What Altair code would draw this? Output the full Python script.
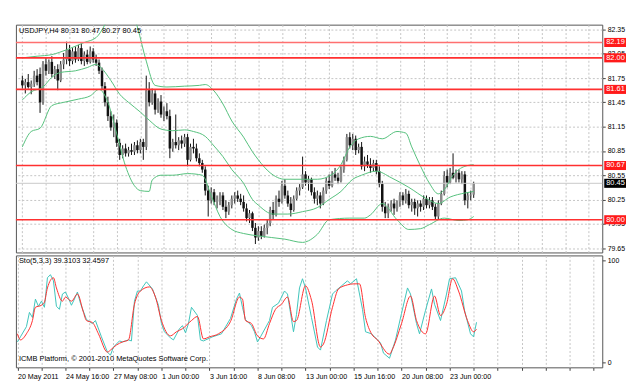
import altair as alt
import pandas as pd

# ---------------- data ----------------
opens = [81.72, 81.66, 81.70, 81.64, 81.68, 81.78, 81.80, 81.45, 81.92, 81.84,
         81.95, 81.80, 81.86, 81.72, 81.92, 81.98, 82.10, 81.96, 82.08, 81.98,
         82.12, 81.96, 82.04, 81.95, 82.08, 81.98, 81.94, 81.84, 81.65, 81.45,
         81.28, 81.14, 81.20, 80.95, 80.80, 80.88, 80.82, 80.86, 80.84, 80.92,
         80.86, 80.96, 80.90, 81.60, 81.45, 81.56, 81.36, 81.46, 81.30, 81.34,
         81.28, 80.88, 80.96, 80.92, 80.98, 80.94, 81.02, 80.74, 80.90, 80.88,
         80.76, 80.70, 80.62, 80.36, 80.24, 80.34, 80.22, 80.26, 80.30, 80.16,
         80.10, 80.18, 80.26, 80.30, 80.26, 80.22, 80.14, 80.02, 80.08, 79.90,
         79.78, 79.86, 79.80, 79.90, 79.96, 80.12, 80.06, 80.26, 80.22, 80.42,
         80.30, 80.20, 80.12, 80.26, 80.36, 80.40, 80.56, 80.46, 80.50, 80.34,
         80.26, 80.30, 80.20, 80.36, 80.48, 80.42, 80.56, 80.52, 80.48, 80.62,
         80.74, 81.02, 80.92, 81.00, 80.86, 80.90, 80.66, 80.72, 80.68, 80.64,
         80.70, 80.60, 80.44, 80.16, 80.08, 80.16, 80.20, 80.14, 80.22, 80.30,
         80.24, 80.32, 80.18, 80.22, 80.14, 80.20, 80.16, 80.26, 80.18, 80.24,
         80.16, 80.04, 80.20, 80.32, 80.54, 80.46, 80.58, 80.52, 80.58, 80.50,
         80.56, 80.24, 80.30, 80.31]
highs = [81.78, 81.74, 81.80, 81.72, 81.84, 81.86, 81.88, 81.96, 82.00, 81.98,
         82.02, 81.90, 81.92, 81.96, 82.06, 82.20, 82.16, 82.12, 82.14, 82.16,
         82.18, 82.08, 82.10, 82.14, 82.12, 82.04, 81.98, 81.88, 81.70, 81.52,
         81.34, 81.30, 81.24, 81.00, 80.92, 80.94, 80.90, 80.94, 80.96, 80.98,
         81.00, 81.00, 81.78, 81.70, 81.62, 81.60, 81.50, 81.54, 81.40, 81.44,
         81.36, 81.00, 81.30, 81.02, 81.04, 81.06, 81.06, 80.94, 81.00, 80.94,
         80.82, 80.74, 80.66, 80.42, 80.40, 80.38, 80.30, 80.34, 80.34, 80.24,
         80.22, 80.30, 80.34, 80.36, 80.32, 80.30, 80.20, 80.12, 80.10, 79.96,
         79.92, 79.92, 79.94, 80.00, 80.16, 80.22, 80.30, 80.36, 80.48, 80.50,
         80.36, 80.28, 80.30, 80.40, 80.44, 80.78, 80.60, 80.54, 80.52, 80.40,
         80.36, 80.34, 80.40, 80.52, 80.56, 80.60, 80.64, 80.58, 80.66, 80.78,
         81.06, 81.08, 81.06, 81.04, 80.94, 80.96, 80.78, 80.80, 80.76, 80.74,
         80.74, 80.66, 80.48, 80.22, 80.20, 80.24, 80.26, 80.24, 80.34, 80.34,
         80.38, 80.36, 80.26, 80.26, 80.24, 80.24, 80.30, 80.30, 80.28, 80.28,
         80.20, 80.24, 80.36, 80.60, 80.62, 80.64, 80.82, 80.62, 80.62, 80.60,
         80.60, 80.34, 80.36, 80.47]
lows = [81.62, 81.56, 81.62, 81.55, 81.64, 81.66, 81.32, 81.42, 81.78, 81.80,
        81.76, 81.74, 81.60, 81.70, 81.86, 81.92, 81.90, 81.92, 81.94, 81.96,
        81.92, 81.90, 81.92, 81.93, 81.94, 81.90, 81.80, 81.60, 81.40, 81.22,
        81.10, 81.02, 80.90, 80.74, 80.76, 80.78, 80.78, 80.80, 80.80, 80.82,
        80.82, 80.74, 80.86, 81.40, 81.42, 81.30, 81.32, 81.26, 81.22, 81.24,
        80.76, 80.84, 80.88, 80.86, 80.88, 80.90, 80.66, 80.72, 80.82, 80.72,
        80.66, 80.58, 80.30, 80.04, 80.20, 80.18, 80.14, 80.18, 80.12, 80.02,
        80.06, 80.14, 80.20, 80.22, 80.18, 80.10, 79.98, 79.96, 79.86, 79.70,
        79.74, 79.76, 79.78, 79.82, 79.92, 80.00, 80.04, 80.16, 80.20, 80.26,
        80.16, 80.04, 80.10, 80.24, 80.30, 80.38, 80.42, 80.36, 80.30, 80.20,
        80.18, 80.14, 80.18, 80.32, 80.38, 80.40, 80.48, 80.44, 80.46, 80.58,
        80.72, 80.88, 80.86, 80.80, 80.82, 80.62, 80.60, 80.64, 80.58, 80.60,
        80.56, 80.40, 80.10, 80.02, 80.02, 80.10, 80.06, 80.10, 80.16, 80.18,
        80.20, 80.14, 80.10, 80.06, 80.04, 80.10, 80.12, 80.14, 80.14, 80.12,
        80.00, 80.00, 80.18, 80.30, 80.40, 80.44, 80.50, 80.46, 80.46, 80.44,
        80.18, 80.14, 80.24, 80.27]
closes = [81.66, 81.70, 81.64, 81.68, 81.78, 81.70, 81.45, 81.92, 81.84, 81.95,
          81.80, 81.86, 81.72, 81.92, 81.98, 82.10, 81.96, 82.08, 81.98, 82.12,
          81.96, 82.04, 81.95, 82.08, 81.98, 81.94, 81.84, 81.65, 81.45, 81.28,
          81.14, 81.20, 80.95, 80.80, 80.88, 80.82, 80.86, 80.84, 80.92, 80.86,
          80.96, 80.90, 81.60, 81.45, 81.56, 81.36, 81.46, 81.30, 81.34, 81.28,
          80.88, 80.96, 80.92, 80.98, 80.94, 81.02, 80.74, 80.90, 80.88, 80.76,
          80.70, 80.62, 80.36, 80.24, 80.34, 80.22, 80.26, 80.30, 80.16, 80.10,
          80.18, 80.26, 80.30, 80.26, 80.22, 80.14, 80.02, 80.08, 79.90, 79.78,
          79.86, 79.80, 79.90, 79.96, 80.12, 80.06, 80.26, 80.22, 80.42, 80.30,
          80.20, 80.12, 80.26, 80.36, 80.40, 80.56, 80.46, 80.50, 80.34, 80.26,
          80.30, 80.20, 80.36, 80.48, 80.42, 80.56, 80.52, 80.48, 80.62, 80.74,
          81.02, 80.92, 81.00, 80.86, 80.90, 80.66, 80.72, 80.68, 80.64, 80.70,
          80.60, 80.44, 80.16, 80.08, 80.16, 80.20, 80.14, 80.22, 80.30, 80.24,
          80.32, 80.18, 80.22, 80.14, 80.20, 80.16, 80.26, 80.18, 80.24, 80.16,
          80.04, 80.20, 80.32, 80.54, 80.46, 80.58, 80.52, 80.58, 80.50, 80.56,
          80.24, 80.30, 80.31, 80.45]
bar_idx = list(range(len(closes)))

# Bollinger bands (read at sample bars)
up_bars = [0, 5, 10, 15, 21, 25, 28, 31, 34, 37, 39, 42, 45, 49, 55, 60, 62, 65, 68, 71,
           75, 78, 80, 84, 89, 95, 100, 105, 108, 111, 114, 118, 122, 127, 130, 132, 135,
           138, 141, 143, 146, 150, 153]
up_vals = [82.00, 82.02, 82.04, 82.10, 82.19, 82.25, 82.41, 82.65, 82.75, 82.60, 82.38,
           81.96, 81.66, 81.64, 81.65, 81.66, 81.67, 81.59, 81.43, 81.22, 81.02, 80.84,
           80.74, 80.58, 80.50, 80.50, 80.50, 80.56, 80.68, 80.90, 81.00, 81.03, 81.00,
           81.09, 81.07, 80.90, 80.66, 80.45, 80.32, 80.37, 80.55, 80.66, 80.68]
mid_bars = [0, 3, 7, 10, 13, 18, 22, 25, 26, 30, 33, 36, 40, 43, 47, 51, 55, 58, 62, 65,
            68, 71, 75, 78, 80, 85, 90, 95, 100, 104, 108, 112, 115, 120, 125, 131, 137,
            141, 145, 150, 153]
mid_vals = [81.48, 81.58, 81.64, 81.76, 81.82, 81.84, 81.88, 81.92, 81.90, 81.72, 81.55,
            81.45, 81.33, 81.23, 81.12, 81.10, 81.11, 81.09, 81.03, 80.91, 80.78, 80.62,
            80.45, 80.25, 80.18, 80.07, 80.07, 80.10, 80.15, 80.25, 80.35, 80.50, 80.55,
            80.60, 80.52, 80.40, 80.26, 80.20, 80.28, 80.33, 80.35]
lo_bars = [0, 3, 6, 10, 14, 19, 23, 26, 29, 32, 35, 38, 40, 43, 44, 47, 51, 56, 61, 64,
           67, 71, 75, 80, 89, 95, 97, 100, 104, 111, 116, 118, 122, 127, 131, 135, 138,
           143, 148, 151, 153]
lo_vals = [80.90, 81.09, 81.13, 81.41, 81.45, 81.49, 81.53, 81.61, 81.45, 81.06, 80.66,
           80.42, 80.36, 80.35, 80.49, 80.55, 80.55, 80.57, 80.55, 80.30, 80.04, 79.88,
           79.83, 79.80, 79.76, 79.72, 79.74, 79.82, 80.00, 80.02, 80.02, 80.06, 80.20,
           80.00, 79.88, 79.89, 79.94, 80.02, 79.99, 80.00, 80.04]

# Stochastic (5,3,3)
k_bars = [0, 1, 3, 4, 5, 6, 7, 8, 9, 10, 11, 12, 13, 14, 15, 16, 17, 18, 19, 20, 21, 23,
          25, 26, 28, 30, 31, 32, 34, 35, 37, 38, 39, 40, 41, 42, 43, 45, 47, 48, 49, 51,
          52, 54, 55, 56, 57, 58, 60, 61, 62, 65, 68, 71, 73, 74, 75, 76, 78, 79, 80, 81,
          84, 85, 87, 89, 90, 92, 93, 94, 95, 96, 98, 100, 101, 103, 105, 106, 108, 110,
          111, 113, 115, 116, 118, 121, 122, 124, 126, 128, 130, 131, 133, 134, 136, 138,
          139, 141, 143, 144, 146, 148, 149, 151, 152, 153]
k_vals = [20, 25, 35, 49, 44, 62, 55, 60, 54, 83, 86, 80, 55, 52, 67, 69, 63, 56, 62, 69,
          58, 42, 38, 41, 25, 10, 7, 15, 21, 20, 22, 21, 60, 70, 70, 75, 79, 72, 56, 38,
          30, 24, 22, 33, 36, 29, 38, 54, 46, 22, 21, 25, 28, 43, 62, 68, 54, 42, 36, 30,
          20, 25, 41, 54, 58, 70, 67, 30, 47, 73, 82, 73, 44, 15, 12, 41, 67, 70, 75, 80,
          77, 82, 52, 30, 28, 19, 9, 4, 22, 48, 73, 67, 38, 28, 51, 72, 57, 41, 67, 82,
          83, 70, 51, 28, 25, 39.31]
d_bars = [0, 1, 3, 5, 6, 8, 9, 10, 12, 13, 15, 16, 18, 20, 22, 23, 25, 27, 30, 31, 33,
          35, 37, 39, 41, 44, 46, 48, 51, 53, 55, 58, 60, 62, 64, 67, 71, 74, 75, 76, 78,
          80, 82, 84, 86, 88, 90, 92, 93, 96, 98, 101, 102, 105, 107, 110, 112, 114, 116,
          118, 120, 124, 125, 128, 131, 133, 136, 139, 141, 143, 145, 147, 150, 152, 153]
d_vals = [28, 22, 28, 41, 54, 56, 59, 73, 83, 73, 60, 64, 60, 67, 49, 41, 39, 28, 10, 12,
          17, 20, 22, 57, 70, 74, 64, 41, 26, 30, 33, 41, 45, 23, 25, 28, 40, 64, 62, 41,
          38, 26, 23, 38, 52, 57, 64, 40, 41, 75, 61, 15, 18, 54, 72, 76, 77, 77, 44, 28,
          22, 8, 13, 38, 65, 41, 28, 65, 46, 57, 82, 70, 41, 30, 32.46]

# Horizontal levels and labels
level_vals = [82.19, 82.00, 81.61, 80.67, 80.00]
level_colors = ["#ff7070", "#ff3030", "#ff3030", "#ff3030", "#ff3030"]
current_price = [80.45]
title_text = "USDJPY,H4  80.31 80.47 80.27 80.45"
sto_text = "Sto(5,3,3) 39.3103 32.4597"
copyright_text = "ICMB Platform, \u00a9 2001-2010 MetaQuotes Software Corp."

price_ticks = [82.35, 82.05, 81.75, 81.45, 81.15, 80.85, 80.55, 80.25, 79.95, 79.65]
x_label_bars = [0, 16, 32, 48, 64, 80, 96, 112, 128, 144]
x_labels = ["20 May 2011", "24 May 16:00", "27 May 08:00", "1 Jun 00:00", "3 Jun 16:00",
            "8 Jun 08:00", "13 Jun 00:00", "15 Jun 16:00", "20 Jun 08:00", "23 Jun 00:00"]
grid_bars = list(range(0, 200, 8))

# ---------------- chart ----------------
FONT = "Liberation Sans"
W = 592
H_TOP = 230
H_BOT = 113

x_scale = alt.Scale(domain=[-0.5, 194.9], nice=False, zero=False)
p_scale = alt.Scale(domain=[79.596, 82.41], nice=False, zero=False)
s_scale = alt.Scale(domain=[-4.9, 104.9], nice=False, zero=False)

x_axis_top = alt.Axis(values=grid_bars, labels=False, ticks=False, domain=False, title=None,
                      grid=True, gridColor="#c4c4c4", gridDash=[2, 2], gridWidth=1)
label_expr = ""
for b, t in zip(x_label_bars, x_labels):
    label_expr += f"datum.value == {b} ? '{t}' : "
label_expr += "''"
x_axis_bot = alt.Axis(values=grid_bars, labelExpr=label_expr, ticks=True, tickSize=3,
                      tickColor="#444", domain=False, title=None, grid=True,
                      gridColor="#c4c4c4", gridDash=[2, 2], gridWidth=1,
                      labelAlign="left", labelPadding=2, labelFontSize=7.2,
                      labelFont=FONT, labelColor="#000", labelOverlap=False)
p_axis = alt.Axis(orient="right", values=price_ticks, format=".2f", title=None,
                  grid=True, gridColor="#c4c4c4", gridDash=[2, 2], gridWidth=1,
                  tickSize=3, tickColor="#444", domain=False, labelPadding=2,
                  labelFontSize=7, labelFont=FONT, labelColor="#000")
s_axis = alt.Axis(orient="right", values=[0, 100], title=None, grid=False, tickSize=3,
                  tickColor="#444", domain=False, labelPadding=2, labelFontSize=7,
                  labelFont=FONT, labelColor="#000")

xt = lambda f: alt.X(f, type="quantitative", scale=x_scale, axis=x_axis_top)
xb = lambda f: alt.X(f, type="quantitative", scale=x_scale, axis=x_axis_bot)
yp = lambda f: alt.Y(f, type="quantitative", scale=p_scale, axis=p_axis)
ys = lambda f: alt.Y(f, type="quantitative", scale=s_scale, axis=s_axis)

candles = pd.DataFrame({"i": bar_idx, "open": opens, "high": highs, "low": lows, "close": closes})
cbase = alt.Chart(candles)
wicks = cbase.mark_rule(color="#111", strokeWidth=1).encode(
    x=xt("i"), y=yp("low"), y2="high")
bodies = cbase.mark_bar(width=2.5).encode(
    x=xt("i"), y=yp("open"), y2="close",
    color=alt.condition("datum.close >= datum.open", alt.value("#8a8a8a"), alt.value("#111111")))

bb_color = "#55c07c"
bb_up = alt.Chart(pd.DataFrame({"i": up_bars, "v": up_vals})).mark_line(
    color=bb_color, strokeWidth=1, interpolate="monotone", clip=True).encode(x=xt("i"), y=yp("v"))
bb_mid = alt.Chart(pd.DataFrame({"i": mid_bars, "v": mid_vals})).mark_line(
    color=bb_color, strokeWidth=1, interpolate="monotone", clip=True).encode(x=xt("i"), y=yp("v"))
bb_lo = alt.Chart(pd.DataFrame({"i": lo_bars, "v": lo_vals})).mark_line(
    color=bb_color, strokeWidth=1, interpolate="monotone", clip=True).encode(x=xt("i"), y=yp("v"))

levels = pd.DataFrame({"v": level_vals, "c": level_colors,
                       "t": [f"{v:.2f}" for v in level_vals]})
level_rules = alt.Chart(levels).mark_rule(strokeWidth=1.6).encode(
    y=yp("v"), color=alt.Color("c:N", scale=None))
cur = pd.DataFrame({"v": current_price, "t": [f"{v:.2f}" for v in current_price]})
cur_rule = alt.Chart(cur).mark_rule(strokeWidth=1, color="#c8c8c8").encode(y=yp("v"))

level_boxes = alt.Chart(levels).transform_calculate(
    lo="datum.v - 0.056", hi="datum.v + 0.056"
).mark_rect(color="#ff1a1a").encode(x=alt.value(W + 2), x2=alt.value(W + 24), y=yp("lo:Q"), y2="hi:Q")
level_texts = alt.Chart(levels).mark_text(
    align="left", baseline="middle", color="white", font=FONT, fontSize=7.5
).encode(x=alt.value(W + 4), y=yp("v"), text="t:N")
cur_box = alt.Chart(cur).transform_calculate(
    lo="datum.v - 0.056", hi="datum.v + 0.056"
).mark_rect(color="#000").encode(x=alt.value(W + 2), x2=alt.value(W + 24), y=yp("lo:Q"), y2="hi:Q")
cur_text = alt.Chart(cur).mark_text(
    align="left", baseline="middle", color="white", font=FONT, fontSize=7.5
).encode(x=alt.value(W + 4), y=yp("v"), text="t:N")

title = alt.Chart(pd.DataFrame({"t": [title_text]})).mark_text(
    align="left", baseline="middle", font=FONT, fontSize=7.5, color="#000"
).encode(x=alt.value(3), y=alt.value(6), text="t:N")

top = alt.layer(
    wicks, bodies, cur_rule, bb_up, bb_mid, bb_lo, level_rules,
    level_boxes, level_texts, cur_box, cur_text, title
).properties(width=W, height=H_TOP)

k_line = alt.Chart(pd.DataFrame({"i": k_bars, "v": k_vals})).mark_line(
    color="#3fc4bb", strokeWidth=1).encode(x=xb("i"), y=ys("v"))
d_line = alt.Chart(pd.DataFrame({"i": d_bars, "v": d_vals})).mark_line(
    color="#ff3030", strokeWidth=1, interpolate="monotone").encode(x=xb("i"), y=ys("v"))
sto_label = alt.Chart(pd.DataFrame({"t": [sto_text]})).mark_text(
    align="left", baseline="top", font=FONT, fontSize=7.5, color="#000"
).encode(x=alt.value(3), y=alt.value(2), text="t:N")
copy_label = alt.Chart(pd.DataFrame({"t": [copyright_text]})).mark_text(
    align="left", baseline="middle", font=FONT, fontSize=7.5, color="#000"
).encode(x=alt.value(3), y=alt.value(105), text="t:N")

bottom = alt.layer(k_line, d_line, sto_label, copy_label).properties(width=W, height=H_BOT)

chart = alt.vconcat(top, bottom, spacing=1).properties(
    padding={"left": 6, "top": 14, "right": 2, "bottom": 0},
    background="white"
).configure_view(stroke="#555", strokeWidth=1)

chart.save("out.html", embed_options={"renderer": "svg", "actions": False})
